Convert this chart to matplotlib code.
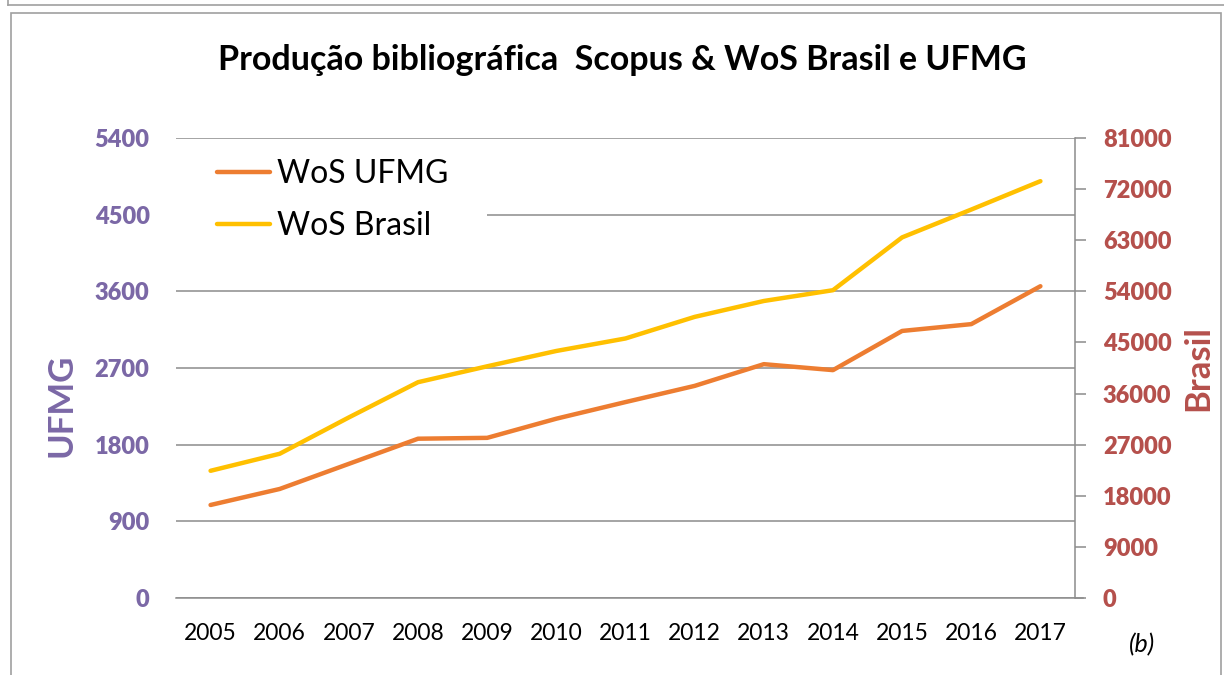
import matplotlib
matplotlib.use("Agg")
import matplotlib.pyplot as plt
from matplotlib.lines import Line2D
from matplotlib.patches import Rectangle

plt.rcParams['font.family'] = ['Lato', 'DejaVu Sans']

# data
years = ['2005', '2006', '2007', '2008', '2009', '2010', '2011',
         '2012', '2013', '2014', '2015', '2016', '2017']
wos_ufmg = [1092, 1280, 1575, 1870, 1880, 2105, 2300,
            2490, 2745, 2675, 3135, 3215, 3660]
wos_brasil = [22400, 25400, 31800, 38000, 40800, 43500, 45700,
              49500, 52300, 54200, 63500, 68400, 73400]
left_ticks = [0, 900, 1800, 2700, 3600, 4500, 5400]
right_ticks = [0, 9000, 18000, 27000, 36000, 45000, 54000, 63000, 72000, 81000]

purple = '#7b68a6'
brown = '#b5504c'
orange = '#ed7d31'
yellow = '#ffc000'
grey = '#8c8c8c'

fig = plt.figure(figsize=(12.24, 6.75), dpi=100)

# frame lines of the slide
fig.add_artist(Line2D([8/1224, 1.0], [1-5/675, 1-5/675], color='#a0a0a0', lw=1.2))
fig.add_artist(Line2D([8/1224, 8/1224], [1-5/675, 1.0], color='#a0a0a0', lw=1.2))
fig.add_artist(Rectangle((11/1224, -0.1), 1210/1224, 1.1-13/675, fill=False,
                         ec='#a0a0a0', lw=1.2, transform=fig.transFigure))

ax = fig.add_axes([176/1224, 77/675, 899/1224, 460/675])
x = range(len(years))
ax.plot(x, wos_ufmg, color=orange, lw=3.2, solid_capstyle='round', label='WoS UFMG')
ax.set_xlim(-0.5, len(years) - 0.5)
ax.set_ylim(0, 5400)
ax.set_yticks(left_ticks)
ax.set_yticklabels([str(v) for v in left_ticks], color=purple, fontweight='heavy', fontsize=17)
ax.set_xticks(list(x))
ax.set_xticklabels(years, fontsize=16.5, color='black')
ax.tick_params(axis='y', length=0, pad=19)
ax.tick_params(axis='x', length=0, pad=18)
ax.grid(axis='y', color=grey, lw=1.1)
ax.set_axisbelow(True)
for s in ['top', 'left', 'right', 'bottom']:
    ax.spines[s].set_visible(False)

ax2 = ax.twinx()
ax2.plot(x, wos_brasil, color=yellow, lw=3.2, solid_capstyle='round', label='WoS Brasil')
ax2.set_ylim(0, 81000)
ax2.set_yticks(right_ticks)
ax2.set_yticklabels([str(v) for v in right_ticks], color=brown, fontweight='heavy', fontsize=17)
ax2.tick_params(axis='y', length=8, color=grey, width=1.1, pad=12)
for s in ['top', 'left', 'bottom']:
    ax2.spines[s].set_visible(False)
ax2.spines['right'].set_color(grey)
ax2.spines['right'].set_linewidth(1.1)
ax2.plot([-0.5, 12.62], [0, 0], color=grey, lw=1.1, clip_on=False)

# white area behind the legend (hides the gridline there, as in the original)
ax2.add_patch(Rectangle((0, 0.757), 0.346, 0.215, transform=ax2.transAxes,
                        fc='white', ec='none', zorder=1))

h1, l1 = ax.get_legend_handles_labels()
h2, l2 = ax2.get_legend_handles_labels()
leg = ax2.legend(h1 + h2, l1 + l2, loc='upper left', bbox_to_anchor=(0.0345, 0.975),
                 fontsize=23, frameon=False, handlelength=1.66, handletextpad=0.22,
                 labelspacing=0.7, borderpad=0.3, borderaxespad=0.0)

fig.text(62/1224, 1-405/675, 'UFMG', rotation=90, ha='center', va='center',
         color=purple, fontweight='bold', fontsize=25)
fig.text(1198/1224, 1-368/675, 'Brasil', rotation=90, ha='center', va='center',
         color=brown, fontweight='bold', fontsize=25)
fig.text(622/1224, 1-60/675, 'Produção bibliográfica  Scopus & WoS Brasil e UFMG',
         ha='center', va='center', fontsize=24.5, fontweight='bold')
fig.text(1142/1224, 1-645/675, '(b)', ha='center', va='center', fontsize=18, style='italic')

fig.savefig('out.png', dpi=100)
